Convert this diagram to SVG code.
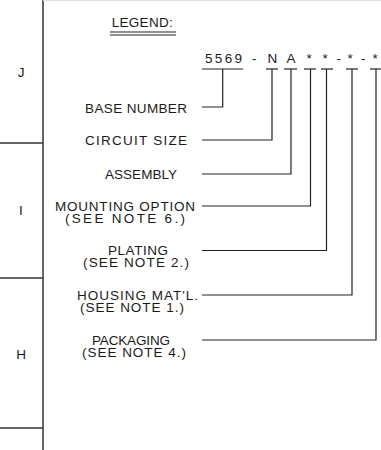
<svg xmlns="http://www.w3.org/2000/svg" width="381" height="450" viewBox="0 0 381 450">
<style>
text{font-family:"Liberation Sans",Arial,sans-serif;font-size:13.5px;fill:#1a1a1a}
.ln{stroke:#222;stroke-width:1.2;fill:none}
.fr{stroke:#333;stroke-width:1.5;fill:none}
</style>
<rect width="381" height="450" fill="#fff"/>
<g id="frame">
<line class="fr" x1="43" y1="0" x2="43" y2="450"/>
<line class="fr" x1="0" y1="143" x2="43" y2="143"/>
<line class="fr" x1="0" y1="278" x2="43" y2="278"/>
<line class="fr" x1="0" y1="428" x2="43" y2="428"/>
<line x1="43" y1="0.5" x2="381" y2="0.5" stroke="#ddd" stroke-width="1"/>
<text x="21" y="76.5" text-anchor="middle">J</text>
<text x="21" y="215" text-anchor="middle">I</text>
<text x="21" y="358.5" text-anchor="middle">H</text>
</g>
<g id="legend-title">
<text x="111.7" y="27" textLength="61" lengthAdjust="spacing">LEGEND:</text>
<line class="ln" x1="110" y1="32" x2="176" y2="32"/>
<line class="ln" x1="110" y1="35" x2="176" y2="35"/>
</g>
<g id="part-number">
<text x="205" y="62.5" textLength="37" lengthAdjust="spacing">5569</text>
<text x="252" y="62.5">-</text>
<text x="267.5" y="62.5">N</text>
<text x="286.5" y="62.5">A</text>
<text x="306.5" y="62.5">*</text>
<text x="322.5" y="62.5">*</text>
<text x="336.5" y="62.5">-</text>
<text x="347.5" y="62.5">*</text>
<text x="361" y="62.5">-</text>
<text x="372.5" y="62.5">*</text>
</g>
<g id="base-number"><text x="85" y="112.5" textLength="102" lengthAdjust="spacing">BASE NUMBER</text></g>
<g id="circuit-size"><text x="85" y="144.5" textLength="102" lengthAdjust="spacing">CIRCUIT SIZE</text></g>
<g id="assembly"><text x="105" y="178.5" textLength="72" lengthAdjust="spacing">ASSEMBLY</text></g>
<g id="mounting-option">
<text x="55" y="211" textLength="140" lengthAdjust="spacing">MOUNTING OPTION</text>
<text x="65" y="222.5" textLength="120" lengthAdjust="spacing">(SEE NOTE 6.)</text>
</g>
<g id="plating">
<text x="108" y="255" textLength="60" lengthAdjust="spacing">PLATING</text>
<text x="83" y="266.5" textLength="106" lengthAdjust="spacing">(SEE NOTE 2.)</text>
</g>
<g id="housing">
<text x="77" y="300" textLength="121" lengthAdjust="spacing">HOUSING MAT'L.</text>
<text x="80" y="311.5" textLength="104" lengthAdjust="spacing">(SEE NOTE 1.)</text>
</g>
<g id="packaging">
<text x="92" y="345" textLength="78" lengthAdjust="spacing">PACKAGING</text>
<text x="82" y="356.5" textLength="104" lengthAdjust="spacing">(SEE NOTE 4.)</text>
</g>
<g id="connectors">
<line class="ln" x1="202" y1="69" x2="243" y2="69"/>
<line class="ln" x1="266" y1="69" x2="278" y2="69"/>
<line class="ln" x1="284" y1="69" x2="297" y2="69"/>
<line class="ln" x1="304" y1="69" x2="316" y2="69"/>
<line class="ln" x1="321" y1="69" x2="333" y2="69"/>
<line class="ln" x1="346" y1="69" x2="358" y2="69"/>
<line class="ln" x1="370" y1="69" x2="381" y2="69"/>
<polyline class="ln" points="222.7,69 222.7,107 202,107"/>
<polyline class="ln" points="272,69 272,140 202,140"/>
<polyline class="ln" points="291,69 291,174 202,174"/>
<polyline class="ln" points="310.5,69 310.5,206 202,206"/>
<polyline class="ln" points="326.5,69 326.5,250.5 202,250.5"/>
<polyline class="ln" points="352,69 352,295 202,295"/>
<polyline class="ln" points="376,69 376,340 202,340"/>
</g>
</svg>
